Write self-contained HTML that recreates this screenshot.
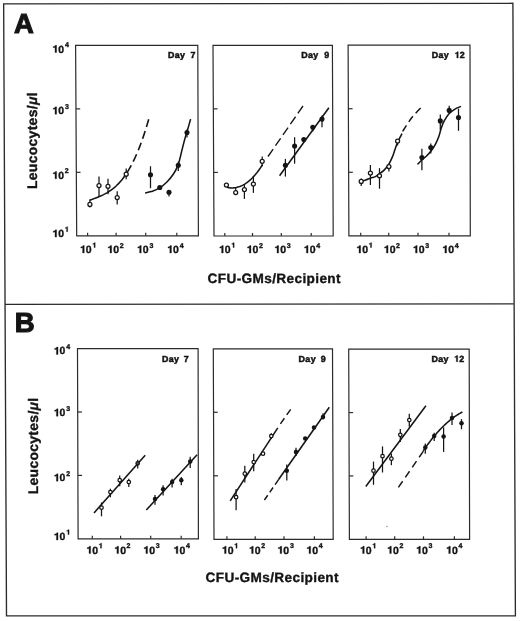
<!DOCTYPE html>
<html><head><meta charset="utf-8"><title>Leucocytes vs CFU-GMs</title>
<style>html,body{margin:0;padding:0;background:#fff;}svg{display:block;filter:grayscale(1);}svg text{stroke:#141414;stroke-width:0.35px;text-rendering:geometricPrecision;}</style>
</head><body>
<svg width="520" height="621" viewBox="0 0 520 621" font-family='"Liberation Sans", sans-serif' font-weight="bold" fill="#141414">
<rect width="520" height="621" fill="#ffffff"/>
<polygon points="3.65,3.85 512.9,3.3 515.4,615.8 6.5,615.8" fill="none" stroke="#2b2b2b" stroke-width="1.35" stroke-linejoin="miter"/>
<line x1="5.0" y1="304.3" x2="513.8" y2="303.8" stroke="#2b2b2b" stroke-width="1.35"/>
<text x="14" y="32.6" font-size="27.4" text-anchor="start" style="stroke-width:1.1px">A</text>
<text x="14.8" y="332.2" font-size="27.6" text-anchor="start" style="stroke-width:1.1px">B</text>
<polygon points="75.6,45.4 197.8,45.4 198.4,235.8 76.7,235.8" fill="none" stroke="#2b2b2b" stroke-width="1.2" stroke-linejoin="miter"/>
<line x1="75.97" y1="108.87" x2="80.17" y2="108.87" stroke="#2b2b2b" stroke-width="1.2"/>
<line x1="76.33" y1="172.33" x2="80.53" y2="172.33" stroke="#2b2b2b" stroke-width="1.2"/>
<line x1="87.6" y1="235.8" x2="87.6" y2="232.8" stroke="#2b2b2b" stroke-width="1.2"/>
<line x1="116.1" y1="235.8" x2="116.1" y2="232.8" stroke="#2b2b2b" stroke-width="1.2"/>
<line x1="145.7" y1="235.8" x2="145.7" y2="232.8" stroke="#2b2b2b" stroke-width="1.2"/>
<line x1="176.8" y1="235.8" x2="176.8" y2="232.8" stroke="#2b2b2b" stroke-width="1.2"/>
<path d="M0.405,0 L0.405,-0.705 L0.285,-0.705 C0.262,-0.628 0.19,-0.575 0.075,-0.57 L0.075,-0.465 C0.15,-0.465 0.205,-0.483 0.247,-0.515 L0.247,0 Z" transform="translate(80.01 253) scale(10.5)" fill="#141414" stroke="#141414" stroke-width="0.03"/>
<text x="85.85" y="253" font-size="10.5">0</text>
<path d="M0.405,0 L0.405,-0.705 L0.285,-0.705 C0.262,-0.628 0.19,-0.575 0.075,-0.57 L0.075,-0.465 C0.15,-0.465 0.205,-0.483 0.247,-0.515 L0.247,0 Z" transform="translate(92.33 247.6) scale(7.0)" fill="#141414" stroke="#141414" stroke-width="0.05"/>
<path d="M0.405,0 L0.405,-0.705 L0.285,-0.705 C0.262,-0.628 0.19,-0.575 0.075,-0.57 L0.075,-0.465 C0.15,-0.465 0.205,-0.483 0.247,-0.515 L0.247,0 Z" transform="translate(107.41 253) scale(10.5)" fill="#141414" stroke="#141414" stroke-width="0.03"/>
<text x="113.25" y="253" font-size="10.5">0</text>
<text x="119.71" y="247.6" font-size="7.0">2</text>
<path d="M0.405,0 L0.405,-0.705 L0.285,-0.705 C0.262,-0.628 0.19,-0.575 0.075,-0.57 L0.075,-0.465 C0.15,-0.465 0.205,-0.483 0.247,-0.515 L0.247,0 Z" transform="translate(137.01 253) scale(10.5)" fill="#141414" stroke="#141414" stroke-width="0.03"/>
<text x="142.85" y="253" font-size="10.5">0</text>
<text x="149.4" y="247.6" font-size="7.0">3</text>
<path d="M0.405,0 L0.405,-0.705 L0.285,-0.705 C0.262,-0.628 0.19,-0.575 0.075,-0.57 L0.075,-0.465 C0.15,-0.465 0.205,-0.483 0.247,-0.515 L0.247,0 Z" transform="translate(167.21 253) scale(10.5)" fill="#141414" stroke="#141414" stroke-width="0.03"/>
<text x="173.05" y="253" font-size="10.5">0</text>
<text x="179.65" y="247.6" font-size="7.0">4</text>
<path d="M0.405,0 L0.405,-0.705 L0.285,-0.705 C0.262,-0.628 0.19,-0.575 0.075,-0.57 L0.075,-0.465 C0.15,-0.465 0.205,-0.483 0.247,-0.515 L0.247,0 Z" transform="translate(52.42 52.5) scale(10.4)" fill="#141414" stroke="#141414" stroke-width="0.03"/>
<text x="58.2" y="52.5" font-size="10.4">0</text>
<text x="64.95" y="47.1" font-size="7.0">4</text>
<path d="M0.405,0 L0.405,-0.705 L0.285,-0.705 C0.262,-0.628 0.19,-0.575 0.075,-0.57 L0.075,-0.465 C0.15,-0.465 0.205,-0.483 0.247,-0.515 L0.247,0 Z" transform="translate(52.42 114.2) scale(10.4)" fill="#141414" stroke="#141414" stroke-width="0.03"/>
<text x="58.2" y="114.2" font-size="10.4">0</text>
<text x="64.9" y="108.8" font-size="7.0">3</text>
<path d="M0.405,0 L0.405,-0.705 L0.285,-0.705 C0.262,-0.628 0.19,-0.575 0.075,-0.57 L0.075,-0.465 C0.15,-0.465 0.205,-0.483 0.247,-0.515 L0.247,0 Z" transform="translate(52.42 178.8) scale(10.4)" fill="#141414" stroke="#141414" stroke-width="0.03"/>
<text x="58.2" y="178.8" font-size="10.4">0</text>
<text x="64.81" y="173.4" font-size="7.0">2</text>
<path d="M0.405,0 L0.405,-0.705 L0.285,-0.705 C0.262,-0.628 0.19,-0.575 0.075,-0.57 L0.075,-0.465 C0.15,-0.465 0.205,-0.483 0.247,-0.515 L0.247,0 Z" transform="translate(52.42 237.1) scale(10.4)" fill="#141414" stroke="#141414" stroke-width="0.03"/>
<text x="58.2" y="237.1" font-size="10.4">0</text>
<path d="M0.405,0 L0.405,-0.705 L0.285,-0.705 C0.262,-0.628 0.19,-0.575 0.075,-0.57 L0.075,-0.465 C0.15,-0.465 0.205,-0.483 0.247,-0.515 L0.247,0 Z" transform="translate(64.83 231.7) scale(7.0)" fill="#141414" stroke="#141414" stroke-width="0.05"/>
<text x="167.9" y="58.2" font-size="8.9" text-anchor="start" letter-spacing="0.35" style="stroke-width:0.5px">Day</text>
<text x="195.5" y="58.2" font-size="8.9" text-anchor="end" style="stroke-width:0.5px">7</text>
<polygon points="213,45.3 332.4,45.3 333.2,236 214,236" fill="none" stroke="#2b2b2b" stroke-width="1.2" stroke-linejoin="miter"/>
<line x1="213.33" y1="108.87" x2="217.53" y2="108.87" stroke="#2b2b2b" stroke-width="1.2"/>
<line x1="213.67" y1="172.43" x2="217.87" y2="172.43" stroke="#2b2b2b" stroke-width="1.2"/>
<line x1="224.8" y1="236" x2="224.8" y2="233" stroke="#2b2b2b" stroke-width="1.2"/>
<line x1="252.5" y1="236" x2="252.5" y2="233" stroke="#2b2b2b" stroke-width="1.2"/>
<line x1="281.3" y1="236" x2="281.3" y2="233" stroke="#2b2b2b" stroke-width="1.2"/>
<line x1="311.2" y1="236" x2="311.2" y2="233" stroke="#2b2b2b" stroke-width="1.2"/>
<path d="M0.405,0 L0.405,-0.705 L0.285,-0.705 C0.262,-0.628 0.19,-0.575 0.075,-0.57 L0.075,-0.465 C0.15,-0.465 0.205,-0.483 0.247,-0.515 L0.247,0 Z" transform="translate(219.01 253) scale(10.5)" fill="#141414" stroke="#141414" stroke-width="0.03"/>
<text x="224.85" y="253" font-size="10.5">0</text>
<path d="M0.405,0 L0.405,-0.705 L0.285,-0.705 C0.262,-0.628 0.19,-0.575 0.075,-0.57 L0.075,-0.465 C0.15,-0.465 0.205,-0.483 0.247,-0.515 L0.247,0 Z" transform="translate(231.33 247.6) scale(7.0)" fill="#141414" stroke="#141414" stroke-width="0.05"/>
<path d="M0.405,0 L0.405,-0.705 L0.285,-0.705 C0.262,-0.628 0.19,-0.575 0.075,-0.57 L0.075,-0.465 C0.15,-0.465 0.205,-0.483 0.247,-0.515 L0.247,0 Z" transform="translate(246.71 253) scale(10.5)" fill="#141414" stroke="#141414" stroke-width="0.03"/>
<text x="252.55" y="253" font-size="10.5">0</text>
<text x="259.01" y="247.6" font-size="7.0">2</text>
<path d="M0.405,0 L0.405,-0.705 L0.285,-0.705 C0.262,-0.628 0.19,-0.575 0.075,-0.57 L0.075,-0.465 C0.15,-0.465 0.205,-0.483 0.247,-0.515 L0.247,0 Z" transform="translate(274.41 253) scale(10.5)" fill="#141414" stroke="#141414" stroke-width="0.03"/>
<text x="280.25" y="253" font-size="10.5">0</text>
<text x="286.8" y="247.6" font-size="7.0">3</text>
<path d="M0.405,0 L0.405,-0.705 L0.285,-0.705 C0.262,-0.628 0.19,-0.575 0.075,-0.57 L0.075,-0.465 C0.15,-0.465 0.205,-0.483 0.247,-0.515 L0.247,0 Z" transform="translate(303.81 253) scale(10.5)" fill="#141414" stroke="#141414" stroke-width="0.03"/>
<text x="309.65" y="253" font-size="10.5">0</text>
<text x="316.25" y="247.6" font-size="7.0">4</text>
<text x="301.3" y="57.8" font-size="8.9" text-anchor="start" letter-spacing="0.35" style="stroke-width:0.5px">Day</text>
<text x="329.1" y="57.8" font-size="8.9" text-anchor="end" style="stroke-width:0.5px">9</text>
<polygon points="348.1,45.2 470,45.2 470.3,235.8 348.9,235.8" fill="none" stroke="#2b2b2b" stroke-width="1.2" stroke-linejoin="miter"/>
<line x1="348.37" y1="108.73" x2="352.57" y2="108.73" stroke="#2b2b2b" stroke-width="1.2"/>
<line x1="348.63" y1="172.27" x2="352.83" y2="172.27" stroke="#2b2b2b" stroke-width="1.2"/>
<line x1="360.7" y1="235.8" x2="360.7" y2="232.8" stroke="#2b2b2b" stroke-width="1.2"/>
<line x1="388.7" y1="235.8" x2="388.7" y2="232.8" stroke="#2b2b2b" stroke-width="1.2"/>
<line x1="418" y1="235.8" x2="418" y2="232.8" stroke="#2b2b2b" stroke-width="1.2"/>
<line x1="449" y1="235.8" x2="449" y2="232.8" stroke="#2b2b2b" stroke-width="1.2"/>
<path d="M0.405,0 L0.405,-0.705 L0.285,-0.705 C0.262,-0.628 0.19,-0.575 0.075,-0.57 L0.075,-0.465 C0.15,-0.465 0.205,-0.483 0.247,-0.515 L0.247,0 Z" transform="translate(356.41 253) scale(10.5)" fill="#141414" stroke="#141414" stroke-width="0.03"/>
<text x="362.25" y="253" font-size="10.5">0</text>
<path d="M0.405,0 L0.405,-0.705 L0.285,-0.705 C0.262,-0.628 0.19,-0.575 0.075,-0.57 L0.075,-0.465 C0.15,-0.465 0.205,-0.483 0.247,-0.515 L0.247,0 Z" transform="translate(368.73 247.6) scale(7.0)" fill="#141414" stroke="#141414" stroke-width="0.05"/>
<path d="M0.405,0 L0.405,-0.705 L0.285,-0.705 C0.262,-0.628 0.19,-0.575 0.075,-0.57 L0.075,-0.465 C0.15,-0.465 0.205,-0.483 0.247,-0.515 L0.247,0 Z" transform="translate(383.81 253) scale(10.5)" fill="#141414" stroke="#141414" stroke-width="0.03"/>
<text x="389.65" y="253" font-size="10.5">0</text>
<text x="396.11" y="247.6" font-size="7.0">2</text>
<path d="M0.405,0 L0.405,-0.705 L0.285,-0.705 C0.262,-0.628 0.19,-0.575 0.075,-0.57 L0.075,-0.465 C0.15,-0.465 0.205,-0.483 0.247,-0.515 L0.247,0 Z" transform="translate(412.91 253) scale(10.5)" fill="#141414" stroke="#141414" stroke-width="0.03"/>
<text x="418.75" y="253" font-size="10.5">0</text>
<text x="425.3" y="247.6" font-size="7.0">3</text>
<path d="M0.405,0 L0.405,-0.705 L0.285,-0.705 C0.262,-0.628 0.19,-0.575 0.075,-0.57 L0.075,-0.465 C0.15,-0.465 0.205,-0.483 0.247,-0.515 L0.247,0 Z" transform="translate(442.31 253) scale(10.5)" fill="#141414" stroke="#141414" stroke-width="0.03"/>
<text x="448.15" y="253" font-size="10.5">0</text>
<text x="454.75" y="247.6" font-size="7.0">4</text>
<text x="431.7" y="58" font-size="8.9" text-anchor="start" letter-spacing="0.35" style="stroke-width:0.5px">Day</text>
<text x="464.7" y="58" font-size="8.9" text-anchor="end" style="stroke-width:0.5px">2</text>
<path d="M0.405,0 L0.405,-0.705 L0.285,-0.705 C0.262,-0.628 0.19,-0.575 0.075,-0.57 L0.075,-0.465 C0.15,-0.465 0.205,-0.483 0.247,-0.515 L0.247,0 Z" transform="translate(454.6 58) scale(8.9)" fill="#141414" stroke="#141414" stroke-width="0.04"/>
<polygon points="77.5,348.6 198.1,348.6 198.4,538.8 78.1,538.8" fill="none" stroke="#2b2b2b" stroke-width="1.2" stroke-linejoin="miter"/>
<line x1="77.7" y1="412" x2="81.9" y2="412" stroke="#2b2b2b" stroke-width="1.2"/>
<line x1="77.9" y1="475.4" x2="82.1" y2="475.4" stroke="#2b2b2b" stroke-width="1.2"/>
<line x1="92.3" y1="538.8" x2="92.3" y2="535.8" stroke="#2b2b2b" stroke-width="1.2"/>
<line x1="120.6" y1="538.8" x2="120.6" y2="535.8" stroke="#2b2b2b" stroke-width="1.2"/>
<line x1="150.7" y1="538.8" x2="150.7" y2="535.8" stroke="#2b2b2b" stroke-width="1.2"/>
<line x1="181.2" y1="538.8" x2="181.2" y2="535.8" stroke="#2b2b2b" stroke-width="1.2"/>
<path d="M0.405,0 L0.405,-0.705 L0.285,-0.705 C0.262,-0.628 0.19,-0.575 0.075,-0.57 L0.075,-0.465 C0.15,-0.465 0.205,-0.483 0.247,-0.515 L0.247,0 Z" transform="translate(86.41 553.6) scale(10.5)" fill="#141414" stroke="#141414" stroke-width="0.03"/>
<text x="92.25" y="553.6" font-size="10.5">0</text>
<path d="M0.405,0 L0.405,-0.705 L0.285,-0.705 C0.262,-0.628 0.19,-0.575 0.075,-0.57 L0.075,-0.465 C0.15,-0.465 0.205,-0.483 0.247,-0.515 L0.247,0 Z" transform="translate(98.73 548.2) scale(7.0)" fill="#141414" stroke="#141414" stroke-width="0.05"/>
<path d="M0.405,0 L0.405,-0.705 L0.285,-0.705 C0.262,-0.628 0.19,-0.575 0.075,-0.57 L0.075,-0.465 C0.15,-0.465 0.205,-0.483 0.247,-0.515 L0.247,0 Z" transform="translate(114.31 553.6) scale(10.5)" fill="#141414" stroke="#141414" stroke-width="0.03"/>
<text x="120.15" y="553.6" font-size="10.5">0</text>
<text x="126.61" y="548.2" font-size="7.0">2</text>
<path d="M0.405,0 L0.405,-0.705 L0.285,-0.705 C0.262,-0.628 0.19,-0.575 0.075,-0.57 L0.075,-0.465 C0.15,-0.465 0.205,-0.483 0.247,-0.515 L0.247,0 Z" transform="translate(143.31 553.6) scale(10.5)" fill="#141414" stroke="#141414" stroke-width="0.03"/>
<text x="149.15" y="553.6" font-size="10.5">0</text>
<text x="155.7" y="548.2" font-size="7.0">3</text>
<path d="M0.405,0 L0.405,-0.705 L0.285,-0.705 C0.262,-0.628 0.19,-0.575 0.075,-0.57 L0.075,-0.465 C0.15,-0.465 0.205,-0.483 0.247,-0.515 L0.247,0 Z" transform="translate(173.61 553.6) scale(10.5)" fill="#141414" stroke="#141414" stroke-width="0.03"/>
<text x="179.45" y="553.6" font-size="10.5">0</text>
<text x="186.05" y="548.2" font-size="7.0">4</text>
<path d="M0.405,0 L0.405,-0.705 L0.285,-0.705 C0.262,-0.628 0.19,-0.575 0.075,-0.57 L0.075,-0.465 C0.15,-0.465 0.205,-0.483 0.247,-0.515 L0.247,0 Z" transform="translate(53.82 354.4) scale(10.4)" fill="#141414" stroke="#141414" stroke-width="0.03"/>
<text x="59.6" y="354.4" font-size="10.4">0</text>
<text x="66.35" y="349" font-size="7.0">4</text>
<path d="M0.405,0 L0.405,-0.705 L0.285,-0.705 C0.262,-0.628 0.19,-0.575 0.075,-0.57 L0.075,-0.465 C0.15,-0.465 0.205,-0.483 0.247,-0.515 L0.247,0 Z" transform="translate(53.82 416.2) scale(10.4)" fill="#141414" stroke="#141414" stroke-width="0.03"/>
<text x="59.6" y="416.2" font-size="10.4">0</text>
<text x="66.3" y="410.8" font-size="7.0">3</text>
<path d="M0.405,0 L0.405,-0.705 L0.285,-0.705 C0.262,-0.628 0.19,-0.575 0.075,-0.57 L0.075,-0.465 C0.15,-0.465 0.205,-0.483 0.247,-0.515 L0.247,0 Z" transform="translate(53.82 481.2) scale(10.4)" fill="#141414" stroke="#141414" stroke-width="0.03"/>
<text x="59.6" y="481.2" font-size="10.4">0</text>
<text x="66.21" y="475.8" font-size="7.0">2</text>
<path d="M0.405,0 L0.405,-0.705 L0.285,-0.705 C0.262,-0.628 0.19,-0.575 0.075,-0.57 L0.075,-0.465 C0.15,-0.465 0.205,-0.483 0.247,-0.515 L0.247,0 Z" transform="translate(53.82 540) scale(10.4)" fill="#141414" stroke="#141414" stroke-width="0.03"/>
<text x="59.6" y="540" font-size="10.4">0</text>
<path d="M0.405,0 L0.405,-0.705 L0.285,-0.705 C0.262,-0.628 0.19,-0.575 0.075,-0.57 L0.075,-0.465 C0.15,-0.465 0.205,-0.483 0.247,-0.515 L0.247,0 Z" transform="translate(66.23 534.6) scale(7.0)" fill="#141414" stroke="#141414" stroke-width="0.05"/>
<text x="161.9" y="361.7" font-size="8.9" text-anchor="start" letter-spacing="0.35" style="stroke-width:0.5px">Day</text>
<text x="188.6" y="361.7" font-size="8.9" text-anchor="end" style="stroke-width:0.5px">7</text>
<polygon points="213.3,348.8 332.5,348.8 333.2,539.3 214,539.3" fill="none" stroke="#2b2b2b" stroke-width="1.2" stroke-linejoin="miter"/>
<line x1="213.53" y1="412.3" x2="217.73" y2="412.3" stroke="#2b2b2b" stroke-width="1.2"/>
<line x1="213.77" y1="475.8" x2="217.97" y2="475.8" stroke="#2b2b2b" stroke-width="1.2"/>
<line x1="226.9" y1="539.3" x2="226.9" y2="536.3" stroke="#2b2b2b" stroke-width="1.2"/>
<line x1="255.2" y1="539.3" x2="255.2" y2="536.3" stroke="#2b2b2b" stroke-width="1.2"/>
<line x1="284" y1="539.3" x2="284" y2="536.3" stroke="#2b2b2b" stroke-width="1.2"/>
<line x1="314.4" y1="539.3" x2="314.4" y2="536.3" stroke="#2b2b2b" stroke-width="1.2"/>
<path d="M0.405,0 L0.405,-0.705 L0.285,-0.705 C0.262,-0.628 0.19,-0.575 0.075,-0.57 L0.075,-0.465 C0.15,-0.465 0.205,-0.483 0.247,-0.515 L0.247,0 Z" transform="translate(221.91 553.6) scale(10.5)" fill="#141414" stroke="#141414" stroke-width="0.03"/>
<text x="227.75" y="553.6" font-size="10.5">0</text>
<path d="M0.405,0 L0.405,-0.705 L0.285,-0.705 C0.262,-0.628 0.19,-0.575 0.075,-0.57 L0.075,-0.465 C0.15,-0.465 0.205,-0.483 0.247,-0.515 L0.247,0 Z" transform="translate(234.23 548.2) scale(7.0)" fill="#141414" stroke="#141414" stroke-width="0.05"/>
<path d="M0.405,0 L0.405,-0.705 L0.285,-0.705 C0.262,-0.628 0.19,-0.575 0.075,-0.57 L0.075,-0.465 C0.15,-0.465 0.205,-0.483 0.247,-0.515 L0.247,0 Z" transform="translate(249.01 553.6) scale(10.5)" fill="#141414" stroke="#141414" stroke-width="0.03"/>
<text x="254.85" y="553.6" font-size="10.5">0</text>
<text x="261.31" y="548.2" font-size="7.0">2</text>
<path d="M0.405,0 L0.405,-0.705 L0.285,-0.705 C0.262,-0.628 0.19,-0.575 0.075,-0.57 L0.075,-0.465 C0.15,-0.465 0.205,-0.483 0.247,-0.515 L0.247,0 Z" transform="translate(277.51 553.6) scale(10.5)" fill="#141414" stroke="#141414" stroke-width="0.03"/>
<text x="283.35" y="553.6" font-size="10.5">0</text>
<text x="289.9" y="548.2" font-size="7.0">3</text>
<path d="M0.405,0 L0.405,-0.705 L0.285,-0.705 C0.262,-0.628 0.19,-0.575 0.075,-0.57 L0.075,-0.465 C0.15,-0.465 0.205,-0.483 0.247,-0.515 L0.247,0 Z" transform="translate(306.41 553.6) scale(10.5)" fill="#141414" stroke="#141414" stroke-width="0.03"/>
<text x="312.25" y="553.6" font-size="10.5">0</text>
<text x="318.85" y="548.2" font-size="7.0">4</text>
<text x="298.6" y="361.7" font-size="8.9" text-anchor="start" letter-spacing="0.35" style="stroke-width:0.5px">Day</text>
<text x="325.8" y="361.7" font-size="8.9" text-anchor="end" style="stroke-width:0.5px">9</text>
<polygon points="348.7,349.2 469.2,349.2 469.6,539.3 349.4,539.3" fill="none" stroke="#2b2b2b" stroke-width="1.2" stroke-linejoin="miter"/>
<line x1="348.93" y1="412.57" x2="353.13" y2="412.57" stroke="#2b2b2b" stroke-width="1.2"/>
<line x1="349.17" y1="475.93" x2="353.37" y2="475.93" stroke="#2b2b2b" stroke-width="1.2"/>
<line x1="366.1" y1="539.3" x2="366.1" y2="536.3" stroke="#2b2b2b" stroke-width="1.2"/>
<line x1="394.7" y1="539.3" x2="394.7" y2="536.3" stroke="#2b2b2b" stroke-width="1.2"/>
<line x1="423.5" y1="539.3" x2="423.5" y2="536.3" stroke="#2b2b2b" stroke-width="1.2"/>
<line x1="454.4" y1="539.3" x2="454.4" y2="536.3" stroke="#2b2b2b" stroke-width="1.2"/>
<path d="M0.405,0 L0.405,-0.705 L0.285,-0.705 C0.262,-0.628 0.19,-0.575 0.075,-0.57 L0.075,-0.465 C0.15,-0.465 0.205,-0.483 0.247,-0.515 L0.247,0 Z" transform="translate(360.01 553.6) scale(10.5)" fill="#141414" stroke="#141414" stroke-width="0.03"/>
<text x="365.85" y="553.6" font-size="10.5">0</text>
<path d="M0.405,0 L0.405,-0.705 L0.285,-0.705 C0.262,-0.628 0.19,-0.575 0.075,-0.57 L0.075,-0.465 C0.15,-0.465 0.205,-0.483 0.247,-0.515 L0.247,0 Z" transform="translate(372.33 548.2) scale(7.0)" fill="#141414" stroke="#141414" stroke-width="0.05"/>
<path d="M0.405,0 L0.405,-0.705 L0.285,-0.705 C0.262,-0.628 0.19,-0.575 0.075,-0.57 L0.075,-0.465 C0.15,-0.465 0.205,-0.483 0.247,-0.515 L0.247,0 Z" transform="translate(387.11 553.6) scale(10.5)" fill="#141414" stroke="#141414" stroke-width="0.03"/>
<text x="392.95" y="553.6" font-size="10.5">0</text>
<text x="399.41" y="548.2" font-size="7.0">2</text>
<path d="M0.405,0 L0.405,-0.705 L0.285,-0.705 C0.262,-0.628 0.19,-0.575 0.075,-0.57 L0.075,-0.465 C0.15,-0.465 0.205,-0.483 0.247,-0.515 L0.247,0 Z" transform="translate(416.11 553.6) scale(10.5)" fill="#141414" stroke="#141414" stroke-width="0.03"/>
<text x="421.95" y="553.6" font-size="10.5">0</text>
<text x="428.5" y="548.2" font-size="7.0">3</text>
<path d="M0.405,0 L0.405,-0.705 L0.285,-0.705 C0.262,-0.628 0.19,-0.575 0.075,-0.57 L0.075,-0.465 C0.15,-0.465 0.205,-0.483 0.247,-0.515 L0.247,0 Z" transform="translate(446.11 553.6) scale(10.5)" fill="#141414" stroke="#141414" stroke-width="0.03"/>
<text x="451.95" y="553.6" font-size="10.5">0</text>
<text x="458.55" y="548.2" font-size="7.0">4</text>
<text x="431.4" y="361.7" font-size="8.9" text-anchor="start" letter-spacing="0.35" style="stroke-width:0.5px">Day</text>
<text x="464.2" y="361.7" font-size="8.9" text-anchor="end" style="stroke-width:0.5px">2</text>
<path d="M0.405,0 L0.405,-0.705 L0.285,-0.705 C0.262,-0.628 0.19,-0.575 0.075,-0.57 L0.075,-0.465 C0.15,-0.465 0.205,-0.483 0.247,-0.515 L0.247,0 Z" transform="translate(454.1 361.7) scale(8.9)" fill="#141414" stroke="#141414" stroke-width="0.04"/>
<text x="36.8" y="189" font-size="13.9" letter-spacing="0.33" transform="rotate(-90 36.8 189)">Leucocytes/<tspan font-style="italic">μ</tspan>l</text>
<text x="37.9" y="494.3" font-size="13.9" letter-spacing="0.33" transform="rotate(-90 37.9 494.3)">Leucocytes/<tspan font-style="italic">μ</tspan>l</text>
<text x="207.6" y="283.1" font-size="13.6" text-anchor="start" letter-spacing="0.38">CFU-GMs/Recipient</text>
<text x="205.6" y="582" font-size="13.6" text-anchor="start" letter-spacing="0.38">CFU-GMs/Recipient</text>
<path d="M89.3,200.46 L90.25,200.09 L91.2,199.73 L92.15,199.37 L93.09,199.01 L94.04,198.65 L94.99,198.28 L95.94,197.91 L96.89,197.54 L97.84,197.16 L98.79,196.77 L99.74,196.37 L100.68,195.95 L101.63,195.52 L102.58,195.08 L103.53,194.61 L104.48,194.13 L105.43,193.63 L106.38,193.1 L107.33,192.55 L108.27,191.97 L109.22,191.37 L110.17,190.73 L111.12,190.06 L112.07,189.36 L113.02,188.63 L113.97,187.86 L114.92,187.05 L115.86,186.2 L116.81,185.3 L117.76,184.37 L118.71,183.39 L119.66,182.36 L120.61,181.28 L121.56,180.16 L122.51,178.98 L123.45,177.75 L124.4,176.46 L125.35,175.12 L126.3,173.71" fill="none" stroke="#141414" stroke-width="1.55"/>
<path d="M127.2,172.33 L127.75,171.45 L128.3,170.55 L128.85,169.63 L129.41,168.69 L129.96,167.72 L130.51,166.74 L131.06,165.73 L131.61,164.69 L132.16,163.64 L132.71,162.55 L133.26,161.45 L133.82,160.32 L134.37,159.16 L134.92,157.98 L135.47,156.78 L136.02,155.54 L136.57,154.29 L137.12,153 L137.67,151.69 L138.23,150.35 L138.78,148.98 L139.33,147.59 L139.88,146.16 L140.43,144.71 L140.98,143.23 L141.53,141.72 L142.08,140.18 L142.64,138.61 L143.19,137.01 L143.74,135.38 L144.29,133.71 L144.84,132.02 L145.39,130.29 L145.94,128.54 L146.49,126.75 L147.05,124.92 L147.6,123.07 L148.15,121.18 L148.7,119.26" fill="none" stroke="#141414" stroke-width="1.6" stroke-dasharray="8.09 4.26"/>
<path d="M145.1,193 C146.12,192.77 148.82,192.4 151.2,191.6 C153.58,190.8 156.78,189.8 159.4,188.2 C162.02,186.6 164.62,184.28 166.9,182 C169.18,179.72 171.27,177.23 173.1,174.5 C174.93,171.77 176.72,168.45 177.9,165.6 C179.08,162.75 179.4,160.48 180.2,157.4 C181,154.32 181.83,150.52 182.7,147.1 C183.57,143.68 184.6,139.75 185.4,136.9 C186.2,134.05 186.63,132.97 187.5,130 C188.37,127.03 190.08,120.92 190.6,119.1" fill="none" stroke="#141414" stroke-width="1.55"/>
<line x1="89.9" y1="200.4" x2="89.9" y2="207.6" stroke="#141414" stroke-width="1.25"/>
<circle cx="89.9" cy="204.4" r="2.0" fill="#fff" stroke="#141414" stroke-width="1.25"/>
<line x1="99" y1="176.4" x2="99" y2="196.6" stroke="#141414" stroke-width="1.25"/>
<circle cx="99" cy="185.6" r="2.0" fill="#fff" stroke="#141414" stroke-width="1.25"/>
<line x1="108" y1="178.8" x2="108" y2="194.3" stroke="#141414" stroke-width="1.25"/>
<circle cx="108" cy="186.3" r="2.0" fill="#fff" stroke="#141414" stroke-width="1.25"/>
<line x1="117.2" y1="191.2" x2="117.2" y2="204.4" stroke="#141414" stroke-width="1.25"/>
<circle cx="117.2" cy="197.5" r="2.0" fill="#fff" stroke="#141414" stroke-width="1.25"/>
<line x1="126.2" y1="168.4" x2="126.2" y2="179.3" stroke="#141414" stroke-width="1.25"/>
<circle cx="126.2" cy="174.2" r="2.0" fill="#fff" stroke="#141414" stroke-width="1.25"/>
<line x1="150.5" y1="166.3" x2="150.5" y2="188.2" stroke="#141414" stroke-width="1.25"/>
<circle cx="150.5" cy="174.8" r="2.55" fill="#141414"/>
<line x1="159.8" y1="186" x2="159.8" y2="189" stroke="#141414" stroke-width="1.25"/>
<circle cx="159.8" cy="187.5" r="2.55" fill="#141414"/>
<line x1="169" y1="190" x2="169" y2="196.4" stroke="#141414" stroke-width="1.25"/>
<circle cx="169" cy="192.3" r="2.55" fill="#141414"/>
<line x1="178.3" y1="161.5" x2="178.3" y2="171.1" stroke="#141414" stroke-width="1.25"/>
<circle cx="178.3" cy="165.2" r="2.55" fill="#141414"/>
<line x1="187" y1="129.5" x2="187" y2="137.6" stroke="#141414" stroke-width="1.25"/>
<circle cx="187" cy="132.5" r="2.55" fill="#141414"/>
<path d="M227,187.32 L227.91,187.51 L228.82,187.67 L229.72,187.78 L230.63,187.86 L231.54,187.91 L232.45,187.91 L233.35,187.88 L234.26,187.8 L235.17,187.69 L236.08,187.54 L236.98,187.35 L237.89,187.12 L238.8,186.85 L239.71,186.54 L240.62,186.19 L241.52,185.8 L242.43,185.37 L243.34,184.89 L244.25,184.38 L245.15,183.82 L246.06,183.22 L246.97,182.58 L247.88,181.89 L248.78,181.17 L249.69,180.39 L250.6,179.58 L251.51,178.72 L252.42,177.82 L253.32,176.87 L254.23,175.88 L255.14,174.84 L256.05,173.75 L256.95,172.63 L257.86,171.45 L258.77,170.23 L259.68,168.96 L260.58,167.65 L261.49,166.29 L262.4,164.88" fill="none" stroke="#141414" stroke-width="1.55"/>
<path d="M268,156.5 L303,106" fill="none" stroke="#141414" stroke-width="1.35" stroke-dasharray="9.07 4.03"/>
<path d="M279.6,175.8 L328.9,107.7" fill="none" stroke="#141414" stroke-width="1.55"/>
<circle cx="226.4" cy="185.1" r="2.0" fill="#fff" stroke="#141414" stroke-width="1.25"/>
<line x1="235.7" y1="187.9" x2="235.7" y2="192.5" stroke="#141414" stroke-width="1.25"/>
<circle cx="235.7" cy="192.5" r="2.0" fill="#fff" stroke="#141414" stroke-width="1.25"/>
<line x1="244.4" y1="184.2" x2="244.4" y2="198.9" stroke="#141414" stroke-width="1.25"/>
<circle cx="244.4" cy="189.5" r="2.0" fill="#fff" stroke="#141414" stroke-width="1.25"/>
<line x1="253.4" y1="176.8" x2="253.4" y2="192.9" stroke="#141414" stroke-width="1.25"/>
<circle cx="253.4" cy="184" r="2.0" fill="#fff" stroke="#141414" stroke-width="1.25"/>
<line x1="262.2" y1="156.5" x2="262.2" y2="166.2" stroke="#141414" stroke-width="1.25"/>
<circle cx="262.2" cy="161.3" r="2.0" fill="#fff" stroke="#141414" stroke-width="1.25"/>
<line x1="285.4" y1="158.9" x2="285.4" y2="176.6" stroke="#141414" stroke-width="1.25"/>
<circle cx="285.4" cy="165.3" r="2.55" fill="#141414"/>
<line x1="294.6" y1="137.2" x2="294.6" y2="163.7" stroke="#141414" stroke-width="1.25"/>
<circle cx="294.6" cy="146" r="2.55" fill="#141414"/>
<circle cx="303.8" cy="139.6" r="2.55" fill="#141414"/>
<line x1="312.8" y1="127.2" x2="312.8" y2="131.5" stroke="#141414" stroke-width="1.25"/>
<circle cx="312.8" cy="127.2" r="2.55" fill="#141414"/>
<line x1="322" y1="115.4" x2="322" y2="127.2" stroke="#141414" stroke-width="1.25"/>
<circle cx="322" cy="119.1" r="2.55" fill="#141414"/>
<path d="M361.4,181.2 C362.12,181.02 364.17,180.62 365.7,180.1 C367.23,179.58 368.98,178.68 370.6,178.1 C372.22,177.52 373.87,177.35 375.4,176.6 C376.93,175.85 378.35,174.68 379.8,173.6 C381.25,172.52 382.67,171.53 384.1,170.1 C385.53,168.67 387.05,167.12 388.4,165 C389.75,162.88 391.12,159.93 392.2,157.4 C393.28,154.87 394,152.32 394.9,149.8 C395.8,147.28 396.7,144.45 397.6,142.3 C398.5,140.15 399.57,138.35 400.3,136.9 C401.03,135.45 401.72,134.15 402,133.6" fill="none" stroke="#141414" stroke-width="1.55"/>
<path d="M402.6,131.4 C404.08,129.17 408.5,121.9 411.5,118 C414.5,114.1 419.08,109.67 420.6,108" fill="none" stroke="#141414" stroke-width="1.45" stroke-dasharray="7.19 4.03"/>
<path d="M417.5,164.4 C418.27,163.63 420.55,161.25 422.1,159.8 C423.65,158.35 425.25,157.25 426.8,155.7 C428.35,154.15 429.95,152.43 431.4,150.5 C432.85,148.57 434.23,146.52 435.5,144.1 C436.77,141.68 438.03,138.7 439,136 C439.97,133.3 440.43,130.42 441.3,127.9 C442.17,125.38 442.95,123.23 444.2,120.9 C445.45,118.57 447.07,115.83 448.8,113.9 C450.53,111.97 452.57,110.55 454.6,109.3 C456.63,108.05 459.93,106.88 461,106.4" fill="none" stroke="#141414" stroke-width="1.55"/>
<line x1="361.2" y1="178.5" x2="361.2" y2="186" stroke="#141414" stroke-width="1.25"/>
<circle cx="361.2" cy="181.4" r="2.0" fill="#fff" stroke="#141414" stroke-width="1.25"/>
<line x1="370.4" y1="165" x2="370.4" y2="185" stroke="#141414" stroke-width="1.25"/>
<circle cx="370.4" cy="173.1" r="2.0" fill="#fff" stroke="#141414" stroke-width="1.25"/>
<line x1="379.5" y1="168.2" x2="379.5" y2="188.7" stroke="#141414" stroke-width="1.25"/>
<circle cx="379.5" cy="175.8" r="2.0" fill="#fff" stroke="#141414" stroke-width="1.25"/>
<line x1="388.9" y1="164.5" x2="388.9" y2="171.4" stroke="#141414" stroke-width="1.25"/>
<circle cx="388.9" cy="166.6" r="2.0" fill="#fff" stroke="#141414" stroke-width="1.25"/>
<line x1="397.6" y1="139" x2="397.6" y2="145.5" stroke="#141414" stroke-width="1.25"/>
<circle cx="397.6" cy="141" r="2.0" fill="#fff" stroke="#141414" stroke-width="1.25"/>
<line x1="421.9" y1="148.8" x2="421.9" y2="170.2" stroke="#141414" stroke-width="1.25"/>
<circle cx="421.9" cy="157.5" r="2.55" fill="#141414"/>
<line x1="430.8" y1="143.5" x2="430.8" y2="153.4" stroke="#141414" stroke-width="1.25"/>
<circle cx="430.8" cy="147.6" r="2.55" fill="#141414"/>
<line x1="440.3" y1="114.5" x2="440.3" y2="130.2" stroke="#141414" stroke-width="1.25"/>
<circle cx="440.3" cy="120.9" r="2.55" fill="#141414"/>
<line x1="449.2" y1="105.8" x2="449.2" y2="112.8" stroke="#141414" stroke-width="1.25"/>
<circle cx="449.2" cy="110.4" r="2.55" fill="#141414"/>
<line x1="458.5" y1="108.7" x2="458.5" y2="130.8" stroke="#141414" stroke-width="1.25"/>
<circle cx="458.5" cy="117.6" r="2.55" fill="#141414"/>
<path d="M94,512.9 L145.2,455.2" fill="none" stroke="#141414" stroke-width="1.55"/>
<path d="M146.3,510 L197.1,454.8" fill="none" stroke="#141414" stroke-width="1.55"/>
<line x1="101.5" y1="502.5" x2="101.5" y2="516.3" stroke="#141414" stroke-width="1.25"/>
<circle cx="101.5" cy="507.7" r="1.75" fill="#fff" stroke="#141414" stroke-width="1.25"/>
<line x1="110.4" y1="488.7" x2="110.4" y2="497.3" stroke="#141414" stroke-width="1.25"/>
<circle cx="110.4" cy="492.1" r="1.75" fill="#fff" stroke="#141414" stroke-width="1.25"/>
<line x1="119.7" y1="475.4" x2="119.7" y2="486.3" stroke="#141414" stroke-width="1.25"/>
<circle cx="119.7" cy="480.2" r="1.75" fill="#fff" stroke="#141414" stroke-width="1.25"/>
<line x1="128.8" y1="478.8" x2="128.8" y2="486.9" stroke="#141414" stroke-width="1.25"/>
<circle cx="128.8" cy="482.1" r="1.75" fill="#fff" stroke="#141414" stroke-width="1.25"/>
<line x1="137.7" y1="459.8" x2="137.7" y2="468.5" stroke="#141414" stroke-width="1.25"/>
<circle cx="137.7" cy="463.3" r="1.75" fill="#555" stroke="#141414" stroke-width="1.25"/>
<line x1="155" y1="495" x2="155" y2="504.8" stroke="#141414" stroke-width="1.25"/>
<circle cx="155" cy="499" r="2.25" fill="#141414"/>
<line x1="163.1" y1="485.2" x2="163.1" y2="495.6" stroke="#141414" stroke-width="1.25"/>
<circle cx="163.1" cy="489.2" r="2.25" fill="#141414"/>
<line x1="172.1" y1="478.8" x2="172.1" y2="487.5" stroke="#141414" stroke-width="1.25"/>
<circle cx="172.1" cy="482.1" r="2.25" fill="#141414"/>
<line x1="181.3" y1="477.1" x2="181.3" y2="485.2" stroke="#141414" stroke-width="1.25"/>
<circle cx="181.3" cy="480.2" r="2.25" fill="#141414"/>
<line x1="190.2" y1="456.7" x2="190.2" y2="467.9" stroke="#141414" stroke-width="1.25"/>
<circle cx="190.2" cy="461.5" r="2.25" fill="#141414"/>
<path d="M230.2,500.9 L277.8,427.8" fill="none" stroke="#141414" stroke-width="1.55"/>
<path d="M280.4,423.9 L290.7,409.3" fill="none" stroke="#141414" stroke-width="1.45" stroke-dasharray="6.91 4.04"/>
<path d="M264.4,500 L278.4,479.8" fill="none" stroke="#141414" stroke-width="1.45" stroke-dasharray="5.81 3.57"/>
<path d="M278.4,479.8 L329.3,407.2" fill="none" stroke="#141414" stroke-width="1.55"/>
<line x1="236.1" y1="488.9" x2="236.1" y2="510.2" stroke="#141414" stroke-width="1.25"/>
<circle cx="236.1" cy="497.2" r="1.75" fill="#fff" stroke="#141414" stroke-width="1.25"/>
<line x1="244.8" y1="465.7" x2="244.8" y2="482.4" stroke="#141414" stroke-width="1.25"/>
<circle cx="244.8" cy="473.7" r="1.75" fill="#fff" stroke="#141414" stroke-width="1.25"/>
<line x1="253.7" y1="453.7" x2="253.7" y2="471.3" stroke="#141414" stroke-width="1.25"/>
<circle cx="253.7" cy="462" r="1.75" fill="#fff" stroke="#141414" stroke-width="1.25"/>
<circle cx="263" cy="453.7" r="1.75" fill="#fff" stroke="#141414" stroke-width="1.25"/>
<line x1="271.3" y1="433.3" x2="271.3" y2="438.9" stroke="#141414" stroke-width="1.25"/>
<circle cx="271.3" cy="436.1" r="1.75" fill="#fff" stroke="#141414" stroke-width="1.25"/>
<line x1="286.8" y1="464.5" x2="286.8" y2="480.6" stroke="#141414" stroke-width="1.25"/>
<circle cx="286.8" cy="470.7" r="2.25" fill="#141414"/>
<line x1="296" y1="447.7" x2="296" y2="456.1" stroke="#141414" stroke-width="1.25"/>
<circle cx="296" cy="451.9" r="2.25" fill="#141414"/>
<circle cx="305.2" cy="438.6" r="2.25" fill="#141414"/>
<circle cx="314" cy="427.6" r="2.25" fill="#141414"/>
<line x1="323" y1="413.3" x2="323" y2="419.5" stroke="#141414" stroke-width="1.25"/>
<circle cx="323" cy="416.9" r="2.25" fill="#141414"/>
<path d="M365.8,486.5 L425.9,405.8" fill="none" stroke="#141414" stroke-width="1.55"/>
<path d="M398.4,487.4 L423.4,451.1" fill="none" stroke="#141414" stroke-width="1.45" stroke-dasharray="7.43 4.78"/>
<path d="M423.2,450.84 L424.21,449.38 L425.21,447.94 L426.22,446.52 L427.22,445.13 L428.23,443.77 L429.23,442.42 L430.24,441.11 L431.24,439.82 L432.25,438.55 L433.25,437.31 L434.26,436.09 L435.26,434.9 L436.27,433.73 L437.27,432.58 L438.28,431.46 L439.28,430.37 L440.29,429.3 L441.29,428.26 L442.3,427.24 L443.3,426.24 L444.31,425.27 L445.31,424.32 L446.32,423.4 L447.32,422.51 L448.33,421.63 L449.33,420.79 L450.34,419.96 L451.34,419.16 L452.35,418.39 L453.35,417.64 L454.36,416.92 L455.36,416.22 L456.37,415.55 L457.37,414.9 L458.38,414.27 L459.38,413.67 L460.39,413.09 L461.39,412.54 L462.4,412.02" fill="none" stroke="#141414" stroke-width="1.55"/>
<line x1="373.5" y1="461.6" x2="373.5" y2="484.8" stroke="#141414" stroke-width="1.25"/>
<circle cx="373.5" cy="470.7" r="1.75" fill="#fff" stroke="#141414" stroke-width="1.25"/>
<line x1="382.5" y1="446.4" x2="382.5" y2="472.5" stroke="#141414" stroke-width="1.25"/>
<circle cx="382.5" cy="456.2" r="1.75" fill="#fff" stroke="#141414" stroke-width="1.25"/>
<line x1="391.4" y1="453.6" x2="391.4" y2="465.2" stroke="#141414" stroke-width="1.25"/>
<circle cx="391.4" cy="458.7" r="1.75" fill="#fff" stroke="#141414" stroke-width="1.25"/>
<line x1="400.3" y1="429" x2="400.3" y2="442" stroke="#141414" stroke-width="1.25"/>
<circle cx="400.3" cy="434.8" r="1.75" fill="#fff" stroke="#141414" stroke-width="1.25"/>
<line x1="409.3" y1="413.8" x2="409.3" y2="426.8" stroke="#141414" stroke-width="1.25"/>
<circle cx="409.3" cy="420" r="1.75" fill="#fff" stroke="#141414" stroke-width="1.25"/>
<line x1="425.3" y1="443.5" x2="425.3" y2="453.7" stroke="#141414" stroke-width="1.25"/>
<circle cx="425.3" cy="447.5" r="2.25" fill="#141414"/>
<line x1="434.2" y1="432.8" x2="434.2" y2="441.1" stroke="#141414" stroke-width="1.25"/>
<circle cx="434.2" cy="436.1" r="2.25" fill="#141414"/>
<line x1="443.6" y1="427.4" x2="443.6" y2="451.9" stroke="#141414" stroke-width="1.25"/>
<circle cx="443.6" cy="436.4" r="2.25" fill="#141414"/>
<line x1="452" y1="412.5" x2="452" y2="425" stroke="#141414" stroke-width="1.25"/>
<circle cx="452" cy="417.9" r="2.25" fill="#141414"/>
<line x1="461.5" y1="419.1" x2="461.5" y2="429.2" stroke="#141414" stroke-width="1.25"/>
<circle cx="461.5" cy="423.3" r="2.25" fill="#141414"/>
<circle cx="386.9" cy="526.5" r="0.7" fill="#888"/>
</svg>
</body></html>
